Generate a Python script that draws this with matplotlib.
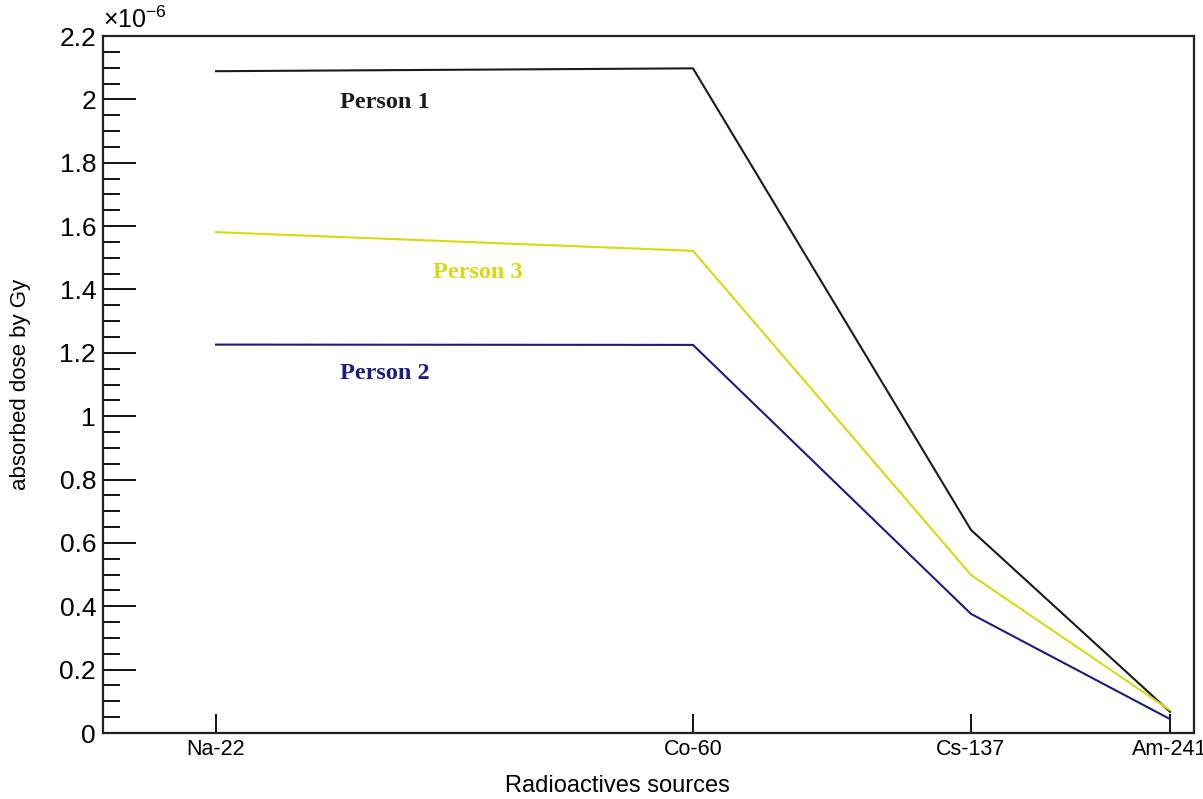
import matplotlib
matplotlib.use('Agg')
import matplotlib.pyplot as plt
from matplotlib.ticker import MultipleLocator, FuncFormatter

# sources and their positions along the x axis (axis runs 0..1)
sources = ['Na-22', 'Co-60', 'Cs-137', 'Am-241']
src_pos = [0.1036, 0.5408, 0.7956, 0.978]

# absorbed dose (Gy)
person1 = [2.089e-6, 2.098e-6, 0.641e-6, 0.067e-6]
person2 = [1.226e-6, 1.225e-6, 0.376e-6, 0.044e-6]
person3 = [1.581e-6, 1.522e-6, 0.499e-6, 0.072e-6]

SCALE = 1e-6

BLK = '#1a1a1a'
YEL = '#d9d90f'
NAVY = '#1c1c82'

plt.rcParams['font.family'] = ['Liberation Sans', 'DejaVu Sans']
plt.rcParams['mathtext.fontset'] = 'custom'
plt.rcParams['mathtext.rm'] = 'Liberation Sans'
plt.rcParams['mathtext.it'] = 'Liberation Sans'

fig = plt.figure(figsize=(12.03, 7.99), dpi=100)
ax = fig.add_axes([0.0856, 0.0826, 0.9069, 0.8723])

ax.plot(src_pos, [v / SCALE for v in person1], color=BLK, lw=1.5)
ax.plot(src_pos, [v / SCALE for v in person3], color=YEL, lw=1.5)
ax.plot(src_pos, [v / SCALE for v in person2], color=NAVY, lw=1.5)

ax.set_xlim(0, 1)
ax.set_ylim(0, 2.2)

# y axis: ROOT style ticks inside
ax.yaxis.set_major_locator(MultipleLocator(0.2))
ax.yaxis.set_minor_locator(MultipleLocator(0.05))
ax.yaxis.set_major_formatter(FuncFormatter(lambda v, p: '%g' % round(v, 2)))
ax.tick_params(axis='y', which='major', direction='in', length=24, width=1.3,
               labelsize=19, pad=5)
ax.tick_params(axis='y', which='minor', direction='in', length=12, width=1.3)

ax.set_xticks(src_pos)
ax.set_xticklabels(sources)
ax.tick_params(axis='x', which='major', direction='in', length=14, width=1.3,
               labelsize=15.5, pad=4)

for s in ax.spines.values():
    s.set_linewidth(1.6)
    s.set_color('#222222')

ax.text(0.0, 1.004, r'$\times\mathrm{10}^{-6}$', transform=ax.transAxes,
        ha='left', va='bottom', fontsize=18)

ax.set_xlabel('Radioactives sources', fontsize=17)
ax.xaxis.set_label_coords(0.472, -0.06)
ax.set_ylabel('absorbed dose by Gy', fontsize=16)
ax.yaxis.set_label_coords(-0.066, 0.5)

# series labels
lbl = dict(family=['Liberation Serif', 'DejaVu Serif'], fontweight='bold',
           fontsize=17.5, ha='center', va='center')
ax.text(0.258, 1.99, 'Person 1', color=BLK, **lbl)
ax.text(0.344, 1.455, 'Person 3', color=YEL, **lbl)
ax.text(0.258, 1.136, 'Person 2', color=NAVY, **lbl)

plt.savefig('out.png', dpi=100, facecolor='white')
plt.close()
